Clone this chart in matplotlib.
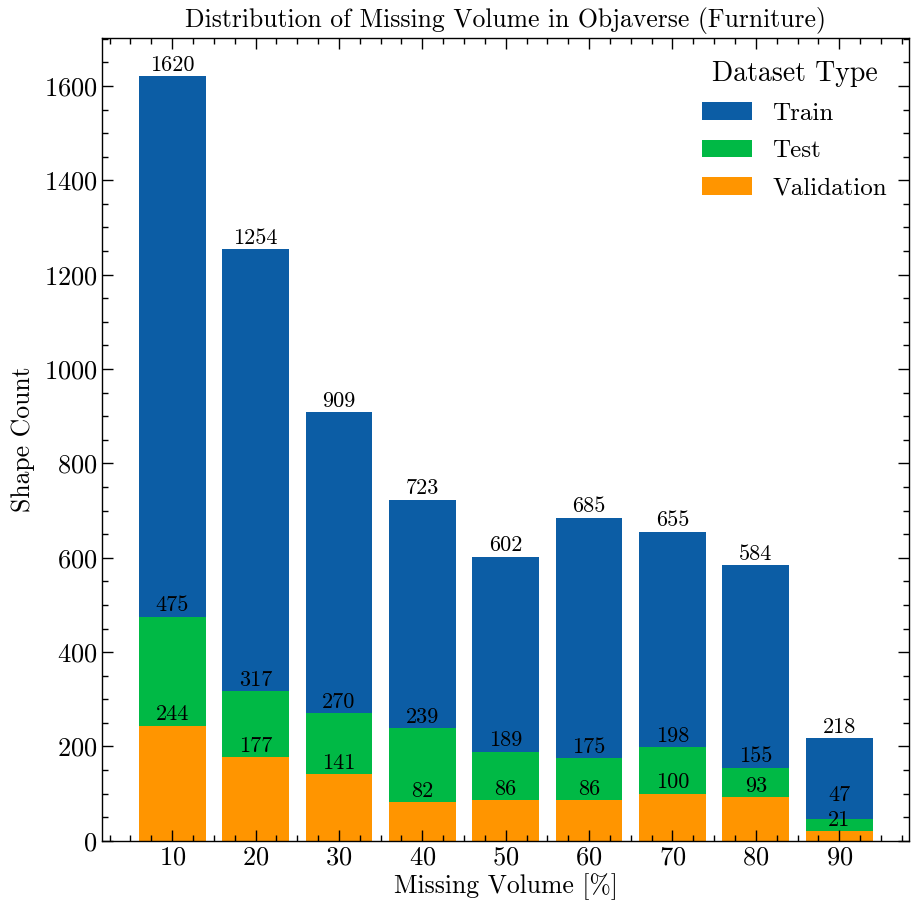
import matplotlib
matplotlib.use("Agg")
import matplotlib.pyplot as plt
from matplotlib.ticker import MultipleLocator

plt.rcParams['font.family'] = 'serif'
plt.rcParams['font.serif'] = ['cmr10']
plt.rcParams['mathtext.fontset'] = 'cm'
plt.rcParams['axes.formatter.use_mathtext'] = True
plt.rcParams['axes.unicode_minus'] = False

missing = [10, 20, 30, 40, 50, 60, 70, 80, 90]
train = [1620, 1254, 909, 723, 602, 685, 655, 584, 218]
test = [475, 317, 270, 239, 189, 175, 198, 155, 47]
validation = [244, 177, 141, 82, 86, 86, 100, 93, 21]

colors = ['#0C5DA5', '#00B945', '#FF9500']

fig, ax = plt.subplots(figsize=(9.12, 9.11), dpi=100)
fig.subplots_adjust(left=0.112, right=0.997, top=0.958, bottom=0.077)

b1 = ax.bar(missing, train, width=8, color=colors[0], label='Train')
b2 = ax.bar(missing, test, width=8, color=colors[1], label='Test')
b3 = ax.bar(missing, validation, width=8, color=colors[2], label='Validation')
ax.bar_label(b1, padding=1, fontsize=16)
test_labels = ax.bar_label(b2, padding=1, fontsize=16)
ax.bar_label(b3, padding=1, fontsize=16)

# push test labels up where they would collide with the validation label
for lab, t, v in zip(test_labels, test, validation):
    if t - v < 40:
        lab.xyann = (0, 10)

ax.set_xticks(missing)
ax.xaxis.set_minor_locator(MultipleLocator(2.5))
ax.yaxis.set_major_locator(MultipleLocator(200))
ax.yaxis.set_minor_locator(MultipleLocator(50))
ax.tick_params(which='both', direction='in', top=True, right=True, labelsize=19, width=1)
ax.tick_params(which='major', length=8)
ax.tick_params(which='minor', length=4)
for s in ax.spines.values():
    s.set_linewidth(1)

ax.set_xlabel('Missing Volume [%]', fontsize=18.5, labelpad=3)
ax.set_ylabel('Shape Count', fontsize=18.5, labelpad=6)
ax.set_title('Distribution of Missing Volume in Objaverse (Furniture)', fontsize=18.5, pad=8)
ax.legend(title='Dataset Type', frameon=False, loc='upper right', fontsize=18,
          title_fontsize=20, labelspacing=0.6)

fig.savefig('out.png', dpi=100)
